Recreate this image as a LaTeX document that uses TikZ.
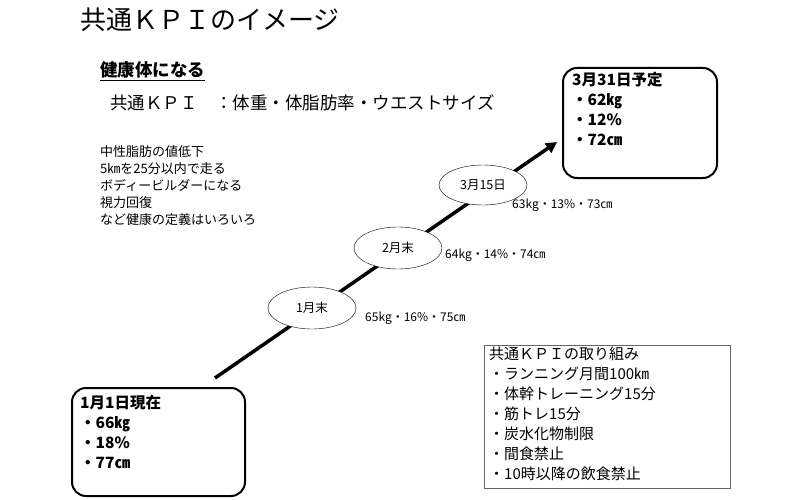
\documentclass[tikz,border=0pt]{standalone}
\usepackage{fontspec}
\setmainfont{Noto Sans CJK JP}
\usetikzlibrary{arrows.meta,shapes.geometric}
\begin{document}
\begin{tikzpicture}[x=1pt,y=-1pt,
  txt/.style={anchor=west,inner sep=0pt},
  ms/.style={draw,ellipse,minimum width=88pt,minimum height=42pt,fill=white,font=\fontsize{12.5}{14}\selectfont},
  val/.style={txt,font=\fontsize{12}{13}\selectfont},
  rbox/.style={draw,line width=2pt,rounded corners=14pt}]
\useasboundingbox (0,0) rectangle (800,500);
\node[txt,font=\fontsize{26}{28}\selectfont] (title) at (80,20) {共通ＫＰＩのイメージ};
\node[txt,font=\fontsize{17.5}{20}\selectfont\bfseries] (h) at (100,70) {健康体になる};
\draw[line width=1pt] ([yshift=-2pt]h.south west) -- ([yshift=-2pt]h.south east);
\node[txt,font=\fontsize{17.5}{20}\selectfont] (kpi) at (110,103) {共通ＫＰＩ\quad ：体重・体脂肪率・ウエストサイズ};
\node[txt,font=\fontsize{13}{17}\selectfont,align=left,anchor=north west] (list) at (100,145) {中性脂肪の値低下\\5㎞を25分以内で走る\\ボディービルダーになる\\視力回復\\など健康の定義はいろいろ};
\coordinate (s) at (215,378);
\coordinate (e) at (557,142);
\draw[line width=3.5pt,-{Triangle[length=11pt,width=11pt]}] (s) -- (e);
\node[ms] (m1) at (312,308) {1月末};
\node[ms] (m2) at (398,248) {2月末};
\node[ms,minimum height=40pt] (m3) at (483,185) {3月15日};
\node[val] (v1) at (365,318) {65kg・16\%・75㎝};
\node[val] (v2) at (445,255) {64kg・14\%・74㎝};
\node[val] (v3) at (512,205) {63kg・13\%・73㎝};
\draw[rbox] (563,68) rectangle (717,178);
\node[txt,font=\fontsize{15.5}{20}\selectfont\bfseries,align=left,anchor=north west] (goal) at (572,72) {3月31日予定\\・62㎏\\・12\%\\・72㎝};
\draw[rbox] (72,388) rectangle (245,496);
\node[txt,font=\fontsize{15.5}{20}\selectfont\bfseries,align=left,anchor=north west] (now) at (80,395) {1月1日現在\\・66㎏\\・18\%\\・77㎝};
\draw[gray!80!black,line width=0.8pt] (484,345) rectangle (730,488);
\node[txt,font=\fontsize{15}{20}\selectfont,align=left,anchor=north west] (plan) at (489,347) {共通ＫＰＩの取り組み\\・ランニング月間100㎞\\・体幹トレーニング15分\\・筋トレ15分\\・炭水化物制限\\・間食禁止\\・10時以降の飲食禁止};
\end{tikzpicture}
\end{document}
